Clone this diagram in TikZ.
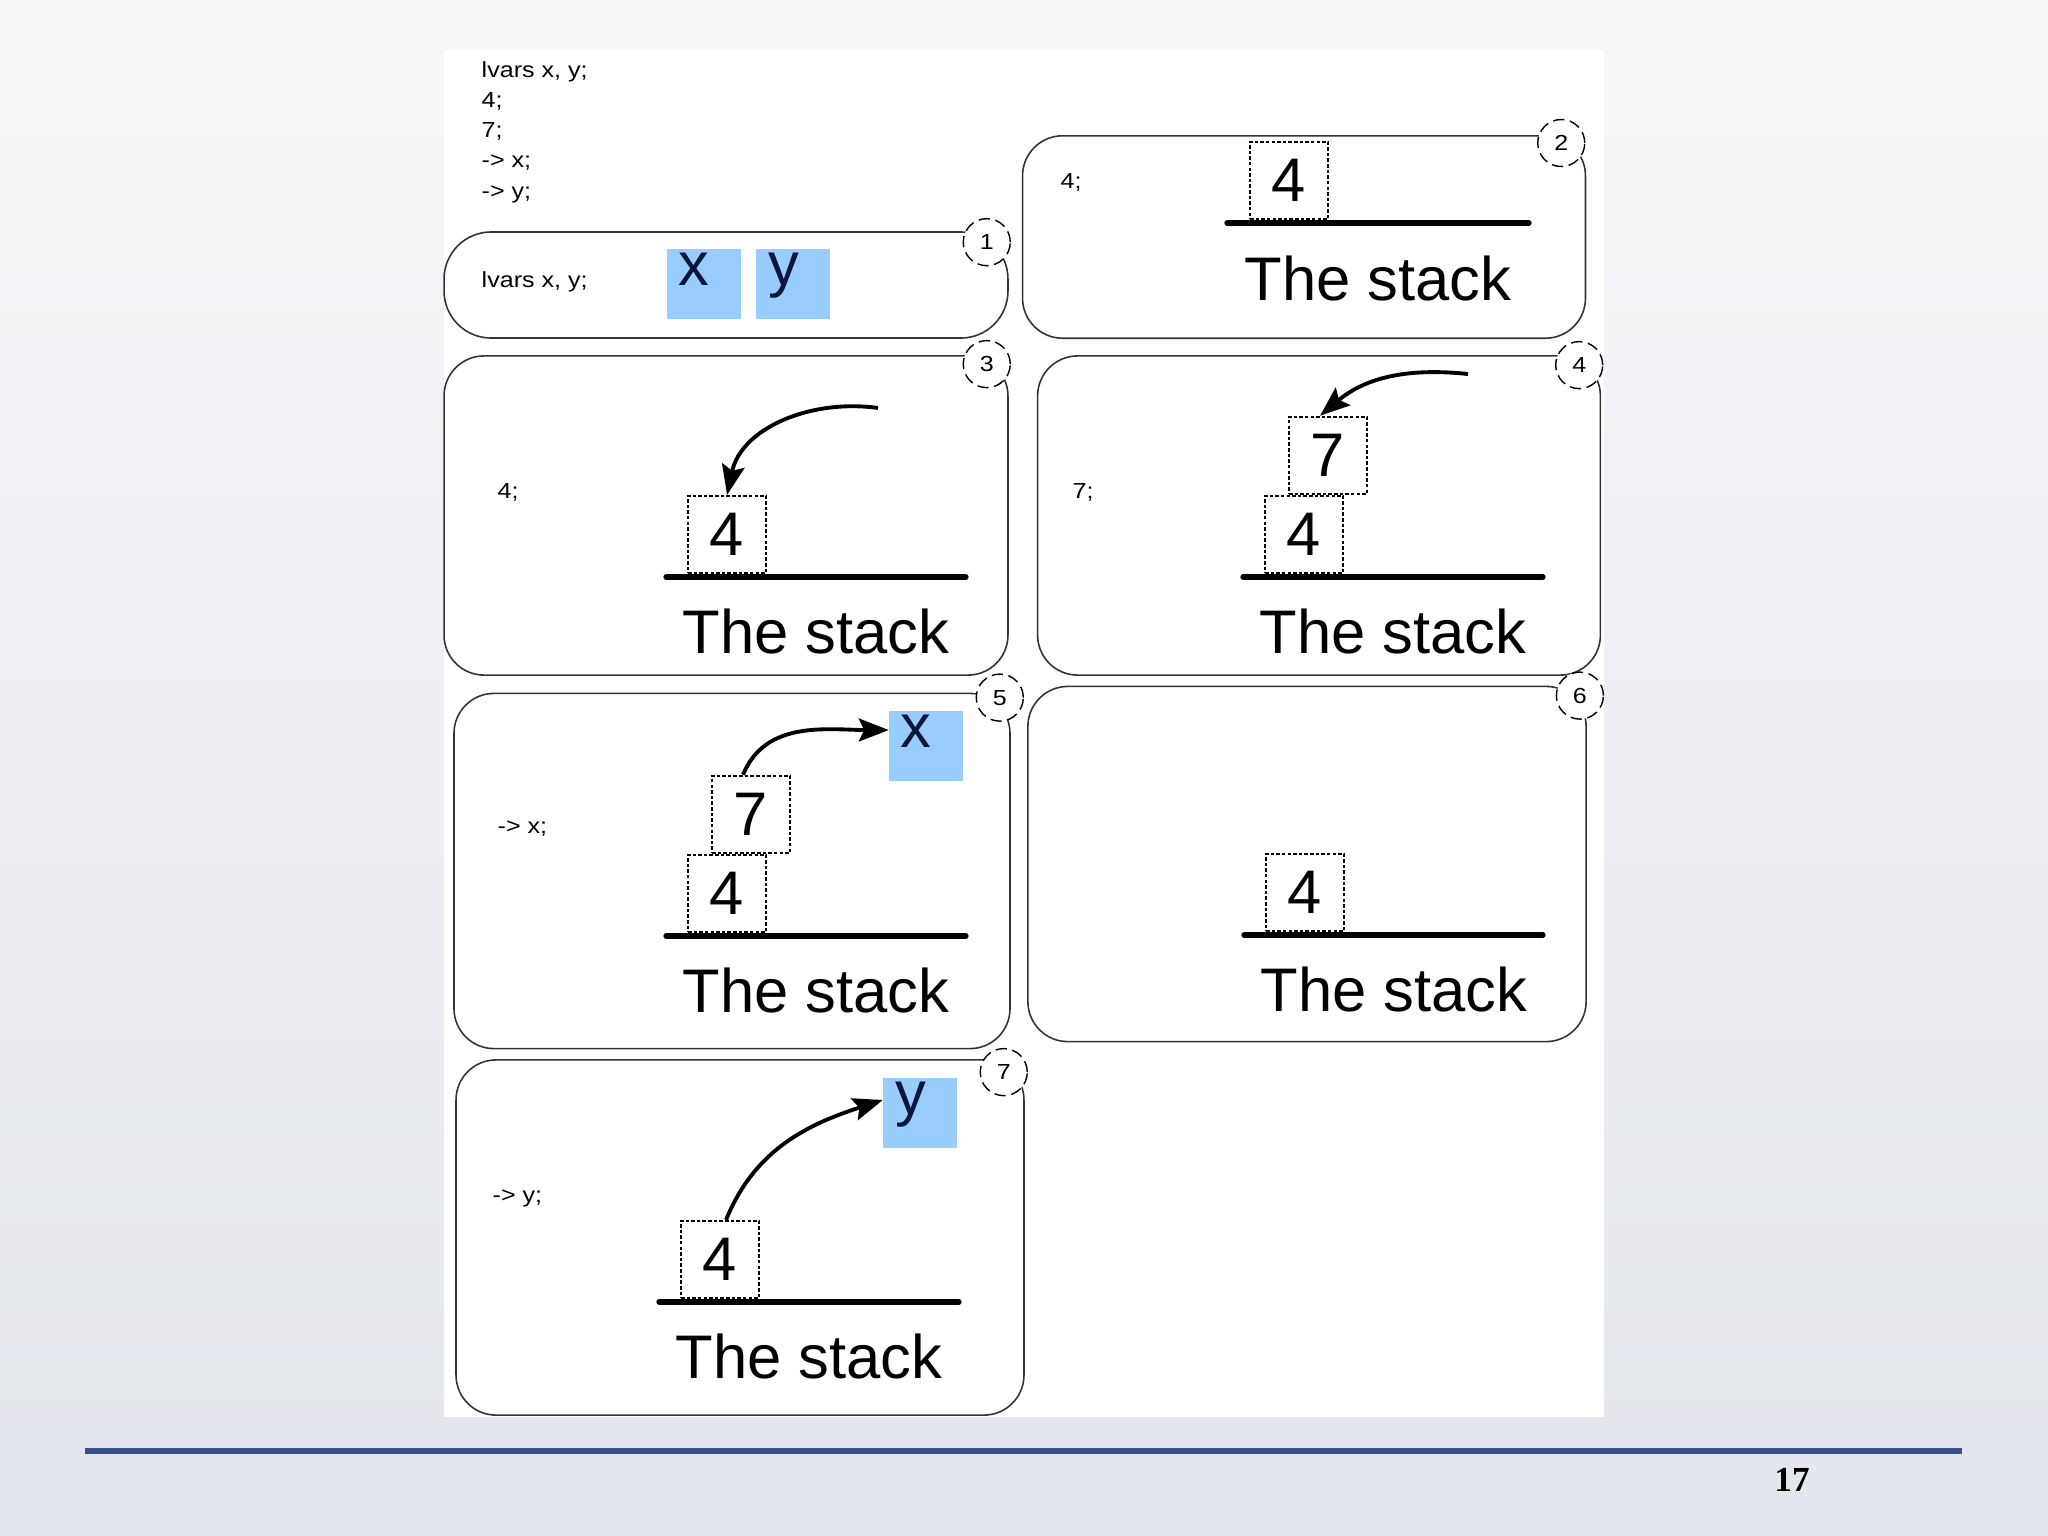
\documentclass[tikz,border=0pt]{standalone}
\usepackage{fontspec}
\setmainfont{Liberation Sans}
\newfontfamily\codefont[FakeStretch=1.15]{Liberation Sans}
\newfontfamily\pagefont{Liberation Serif}
\usetikzlibrary{arrows.meta,positioning}

\definecolor{varblue}{RGB}{153,204,255}
\definecolor{varink}{RGB}{12,22,58}
\definecolor{footblue}{RGB}{52,82,145}
\definecolor{bgtop}{RGB}{247,247,249}
\definecolor{bgbot}{RGB}{227,230,236}

\newcommand\stackfont{\fontsize{17.5}{20}\selectfont}
\newcommand\smallcode{\codefont\fontsize{6.2}{8.5}\selectfont}

\tikzset{
  panel/.style={draw=black!80, line width=0.45pt, rounded corners=0.4cm, fill=white, inner sep=0pt},
  cell/.style={draw, line width=0.6pt, dash pattern=on 1pt off 0.6pt, minimum width=0.78cm,
    minimum height=0.77cm, inner sep=0pt, font=\stackfont, anchor=south west},
  stackline/.style={line width=1.5pt, line cap=round},
  stacklabel/.style={font=\stackfont, anchor=base, inner sep=0pt},
  codeline/.style={font=\smallcode, anchor=base west, inner sep=0pt},
  varbox/.style={fill=varblue, minimum width=0.73cm, minimum height=0.70cm, inner sep=0pt},
  varname/.style={text=varink, font=\stackfont, anchor=base west, inner sep=0pt},
  tagcircle/.style={circle, draw, line width=0.4pt, dash pattern=on 3.2pt off 1.6pt, fill=white,
    minimum size=0.47cm, inner sep=0pt, font=\smallcode},
  stackarrow/.style={line width=1.1pt, -{Stealth[length=8.5pt, width=6.5pt, inset=1.5pt]}}
}

\begin{document}
\begin{tikzpicture}[x=0.01cm, y=0.01cm]
    \useasboundingbox (0,0) rectangle (2048,-1536);
    \shade[top color=bgtop, bottom color=bgbot] (0,0) rectangle (2048,-1536);
    \fill[white] (444,-50) rectangle (1604,-1417);

    % the program
    \foreach \txt [count=\i] in {{lvars x, y;}, 4;, 7;, -> x;, -> y;}
        \node[codeline] (prog\i) at (481,{-77-30.25*(\i-1)}) {\txt};

    % frames
    \node[panel, rounded corners=0.47cm, minimum width=5.636cm, minimum height=1.06cm] (b1) at (726,-285) {};
    \node[panel, minimum width=5.626cm, minimum height=2.023cm] (b2) at (1304,-237) {};
    \node[panel, minimum width=5.636cm, minimum height=3.19cm] (b3) at (726,-515.5) {};
    \node[panel, minimum width=5.625cm, minimum height=3.19cm] (b4) at (1319,-515.5) {};
    \node[panel, minimum width=5.557cm, minimum height=3.55cm] (b5) at (732,-871) {};
    \node[panel, minimum width=5.579cm, minimum height=3.55cm] (b6) at (1307,-864) {};
    \node[panel, minimum width=5.676cm, minimum height=3.55cm] (b7) at (740,-1237.5) {};

    % 1
    \node[codeline] (l1) at (481,-287) {lvars x, y;};
    \node[varbox] (x1) at (704,-284) {};
    \node[varname] (x1n) at ([shift={(11,-37)}]x1.north west) {x};
    \node[varbox] (y1) at (793,-284) {};
    \node[varname] (y1n) at ([shift={(12,-37)}]y1.north west) {y};

    % 2
    \node[codeline] (l2) at (1060,-188) {4;};
    \coordinate (s2a) at (1227,-223);
    \coordinate (s2b) at (1529,-223);
    \draw[stackline] (s2a) -- (s2b);
    \node[cell] (c2) at ([shift={(22,3)}]s2a) {4};
    \node[stacklabel] (t2) at ([shift={(151,-77)}]s2a) {The stack};

    % 3
    \node[codeline] (l3) at (497,-498) {4;};
    \coordinate (s3a) at (666,-577);
    \coordinate (s3b) at (966,-577);
    \draw[stackline] (s3a) -- (s3b);
    \node[cell] (c3) at ([shift={(21,3)}]s3a) {4};
    \node[stacklabel] (t3) at ([shift={(150,-76)}]s3a) {The stack};
    \coordinate (a3) at (878,-408);
    \draw[stackarrow] (a3) to[out=172, in=78] (c3.north);

    % 4
    \node[codeline] (l4) at (1072,-498) {7;};
    \coordinate (s4a) at (1243,-577);
    \coordinate (s4b) at (1543,-577);
    \draw[stackline] (s4a) -- (s4b);
    \node[cell] (c4a) at ([shift={(21,3)}]s4a) {4};
    \node[cell] (c4b) at ([shift={(24,0)}]c4a.north west) {7};
    \node[stacklabel] (t4) at ([shift={(150,-76)}]s4a) {The stack};
    \coordinate (a4) at (1468,-374);
    \draw[stackarrow] (a4) to[out=174, in=40] ([shift={(-8,0)}]c4b.north);

    % 5
    \node[codeline] (l5) at (497,-833) {-> x;};
    \coordinate (s5a) at (666,-936);
    \coordinate (s5b) at (966,-936);
    \draw[stackline] (s5a) -- (s5b);
    \node[cell] (c5a) at ([shift={(21,3)}]s5a) {4};
    \node[cell] (c5b) at ([shift={(24,0)}]c5a.north west) {7};
    \node[stacklabel] (t5) at ([shift={(150,-76)}]s5a) {The stack};
    \node[varbox] (x5) at (926,-746) {};
    \node[varname] (x5n) at ([shift={(11,-37)}]x5.north west) {x};
    \draw[stackarrow] ([shift={(-8,0)}]c5b.north) to[out=68, in=180] ([shift={(0,16)}]x5.west);

    % 6
    \coordinate (s6a) at (1244,-935);
    \coordinate (s6b) at (1543,-935);
    \draw[stackline] (s6a) -- (s6b);
    \node[cell] (c6) at ([shift={(21,3)}]s6a) {4};
    \node[stacklabel] (t6) at ([shift={(150,-76)}]s6a) {The stack};

    % 7
    \node[codeline] (l7) at (492,-1202) {-> y;};
    \coordinate (s7a) at (659,-1302);
    \coordinate (s7b) at (959,-1302);
    \draw[stackline] (s7a) -- (s7b);
    \node[cell] (c7) at ([shift={(21,3)}]s7a) {4};
    \node[stacklabel] (t7) at ([shift={(150,-76)}]s7a) {The stack};
    \node[varbox] (y7) at (920,-1113) {};
    \node[varname] (y7n) at ([shift={(12,-37)}]y7.north west) {y};
    \draw[stackarrow] ([shift={(6,0)}]c7.north) to[out=68, in=198] ([shift={(0,13)}]y7.west);

    % step numbers
    \foreach \n/\dx/\dy in {1/-22/-11, 2/-25/-8, 3/-22/-9, 4/-22/-10, 5/-11/-5, 6/-7/-10, 7/-21/-13}
        \node[tagcircle] (tag\n) at ([shift={(\dx,\dy)}]b\n.north east) {\n};

    % footer
    \draw[line width=1.85pt, footblue] (85,-1451) -- (1962,-1451);
    \node[font=\pagefont\bfseries\fontsize{10}{12}\selectfont, inner sep=0pt] (pnum) at (1792,-1480) {17};
\end{tikzpicture}
\end{document}
